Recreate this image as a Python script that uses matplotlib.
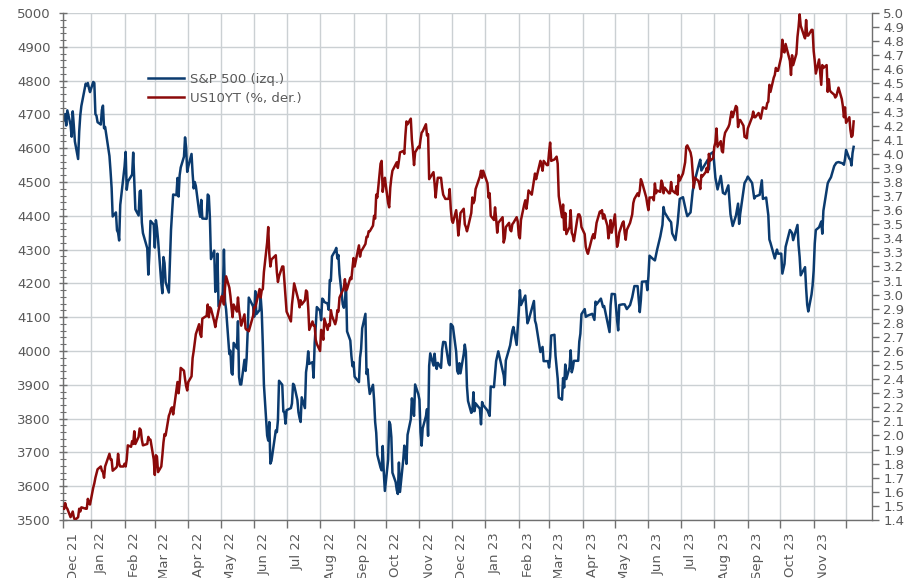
import matplotlib
matplotlib.use("Agg")
import matplotlib.pyplot as plt
from matplotlib.ticker import MultipleLocator, FormatStrFormatter, FixedLocator, NullFormatter
import matplotlib.dates as mdates
import pandas as pd

# S&P 500 closes (left axis)
spx_points = [
    ("2021-12-07", 4686), ("2021-12-08", 4701), ("2021-12-09", 4667), ("2021-12-10", 4712),
    ("2021-12-13", 4669), ("2021-12-14", 4634), ("2021-12-15", 4709), ("2021-12-16", 4668),
    ("2021-12-17", 4620), ("2021-12-20", 4568), ("2021-12-21", 4649), ("2021-12-22", 4697),
    ("2021-12-23", 4725), ("2021-12-27", 4791), ("2021-12-28", 4786), ("2021-12-29", 4793),
    ("2021-12-30", 4778), ("2021-12-31", 4766),
    ("2022-01-03", 4796), ("2022-01-04", 4793), ("2022-01-05", 4701), ("2022-01-06", 4696),
    ("2022-01-07", 4677), ("2022-01-10", 4670), ("2022-01-11", 4713), ("2022-01-12", 4726),
    ("2022-01-13", 4659), ("2022-01-14", 4663), ("2022-01-18", 4577), ("2022-01-19", 4533),
    ("2022-01-20", 4483), ("2022-01-21", 4398), ("2022-01-24", 4410), ("2022-01-25", 4357),
    ("2022-01-26", 4350), ("2022-01-27", 4327), ("2022-01-28", 4432), ("2022-01-31", 4516),
    ("2022-02-01", 4546), ("2022-02-02", 4589), ("2022-02-03", 4477), ("2022-02-04", 4501),
    ("2022-02-08", 4522), ("2022-02-09", 4587), ("2022-02-10", 4504), ("2022-02-11", 4419),
    ("2022-02-14", 4401), ("2022-02-15", 4472), ("2022-02-16", 4475), ("2022-02-17", 4380),
    ("2022-02-18", 4349), ("2022-02-22", 4304), ("2022-02-23", 4226), ("2022-02-24", 4288),
    ("2022-02-25", 4385), ("2022-02-28", 4374), ("2022-03-01", 4306), ("2022-03-02", 4387),
    ("2022-03-03", 4364), ("2022-03-04", 4329), ("2022-03-07", 4201), ("2022-03-08", 4171),
    ("2022-03-09", 4278), ("2022-03-10", 4260), ("2022-03-11", 4204), ("2022-03-14", 4173),
    ("2022-03-15", 4262), ("2022-03-16", 4358), ("2022-03-17", 4412), ("2022-03-18", 4463),
    ("2022-03-21", 4461), ("2022-03-22", 4512), ("2022-03-23", 4457), ("2022-03-24", 4520),
    ("2022-03-25", 4543), ("2022-03-28", 4575), ("2022-03-29", 4632), ("2022-03-30", 4602),
    ("2022-03-31", 4530), ("2022-04-01", 4546), ("2022-04-04", 4583), ("2022-04-05", 4525),
    ("2022-04-06", 4481), ("2022-04-07", 4500), ("2022-04-08", 4488), ("2022-04-11", 4413),
    ("2022-04-12", 4397), ("2022-04-13", 4447), ("2022-04-14", 4392), ("2022-04-18", 4391),
    ("2022-04-19", 4463), ("2022-04-20", 4459), ("2022-04-21", 4394), ("2022-04-22", 4272),
    ("2022-04-25", 4297), ("2022-04-26", 4175), ("2022-04-27", 4184), ("2022-04-28", 4288),
    ("2022-04-29", 4132), ("2022-05-02", 4155), ("2022-05-03", 4175), ("2022-05-04", 4300),
    ("2022-05-05", 4147), ("2022-05-06", 4123), ("2022-05-09", 3991), ("2022-05-10", 4001),
    ("2022-05-11", 3935), ("2022-05-12", 3930), ("2022-05-13", 4024), ("2022-05-16", 4008),
    ("2022-05-17", 4088), ("2022-05-18", 3923), ("2022-05-19", 3901), ("2022-05-20", 3901),
    ("2022-05-23", 3974), ("2022-05-24", 3941), ("2022-05-25", 3979), ("2022-05-26", 4058),
    ("2022-05-27", 4158), ("2022-05-31", 4132), ("2022-06-01", 4101), ("2022-06-02", 4177),
    ("2022-06-03", 4109), ("2022-06-06", 4121), ("2022-06-07", 4161), ("2022-06-08", 4116),
    ("2022-06-09", 4018), ("2022-06-10", 3901), ("2022-06-13", 3750), ("2022-06-14", 3735),
    ("2022-06-15", 3790), ("2022-06-16", 3667), ("2022-06-17", 3675), ("2022-06-21", 3765),
    ("2022-06-22", 3760), ("2022-06-23", 3796), ("2022-06-24", 3912), ("2022-06-27", 3900),
    ("2022-06-28", 3821), ("2022-06-29", 3819), ("2022-06-30", 3785), ("2022-07-01", 3825),
    ("2022-07-05", 3831), ("2022-07-06", 3845), ("2022-07-07", 3903), ("2022-07-08", 3899),
    ("2022-07-11", 3855), ("2022-07-12", 3819), ("2022-07-13", 3802), ("2022-07-14", 3790),
    ("2022-07-15", 3863), ("2022-07-18", 3831), ("2022-07-19", 3937), ("2022-07-20", 3960),
    ("2022-07-21", 3999), ("2022-07-22", 3962), ("2022-07-25", 3967), ("2022-07-26", 3921),
    ("2022-07-27", 4024), ("2022-07-28", 4073), ("2022-07-29", 4130), ("2022-08-01", 4119),
    ("2022-08-02", 4091), ("2022-08-03", 4155), ("2022-08-04", 4152), ("2022-08-05", 4145),
    ("2022-08-08", 4140), ("2022-08-09", 4122), ("2022-08-10", 4210), ("2022-08-11", 4207),
    ("2022-08-12", 4280), ("2022-08-15", 4297), ("2022-08-16", 4305), ("2022-08-17", 4274),
    ("2022-08-18", 4284), ("2022-08-19", 4228), ("2022-08-22", 4138), ("2022-08-23", 4128),
    ("2022-08-24", 4141), ("2022-08-25", 4199), ("2022-08-26", 4058), ("2022-08-29", 4031),
    ("2022-08-30", 3986), ("2022-08-31", 3955), ("2022-09-01", 3967), ("2022-09-02", 3924),
    ("2022-09-06", 3908), ("2022-09-07", 3980), ("2022-09-08", 4006), ("2022-09-09", 4067),
    ("2022-09-12", 4110), ("2022-09-13", 3932), ("2022-09-14", 3946), ("2022-09-15", 3901),
    ("2022-09-16", 3873), ("2022-09-19", 3900), ("2022-09-20", 3856), ("2022-09-21", 3790),
    ("2022-09-22", 3758), ("2022-09-23", 3693), ("2022-09-26", 3655), ("2022-09-27", 3647),
    ("2022-09-28", 3719), ("2022-09-29", 3640), ("2022-09-30", 3586), ("2022-10-03", 3678),
    ("2022-10-04", 3791), ("2022-10-05", 3783), ("2022-10-06", 3745), ("2022-10-07", 3640),
    ("2022-10-10", 3612), ("2022-10-11", 3589), ("2022-10-12", 3577), ("2022-10-13", 3670),
    ("2022-10-14", 3583), ("2022-10-17", 3678), ("2022-10-18", 3720), ("2022-10-19", 3695),
    ("2022-10-20", 3666), ("2022-10-21", 3752), ("2022-10-24", 3798), ("2022-10-25", 3860),
    ("2022-10-26", 3831), ("2022-10-27", 3808), ("2022-10-28", 3901), ("2022-10-31", 3872),
    ("2022-11-01", 3856), ("2022-11-02", 3760), ("2022-11-03", 3720), ("2022-11-04", 3771),
    ("2022-11-07", 3807), ("2022-11-08", 3828), ("2022-11-09", 3749), ("2022-11-10", 3956),
    ("2022-11-11", 3993), ("2022-11-14", 3957), ("2022-11-15", 3992), ("2022-11-16", 3959),
    ("2022-11-17", 3947), ("2022-11-18", 3965), ("2022-11-21", 3950), ("2022-11-22", 4004),
    ("2022-11-23", 4027), ("2022-11-25", 4026), ("2022-11-28", 3964), ("2022-11-29", 3958),
    ("2022-11-30", 4080), ("2022-12-01", 4077), ("2022-12-02", 4072), ("2022-12-05", 3998),
    ("2022-12-06", 3941), ("2022-12-07", 3933), ("2022-12-08", 3964), ("2022-12-09", 3934),
    ("2022-12-12", 3991), ("2022-12-13", 4019), ("2022-12-14", 3996), ("2022-12-15", 3895),
    ("2022-12-16", 3852), ("2022-12-19", 3817), ("2022-12-20", 3821), ("2022-12-21", 3878),
    ("2022-12-22", 3822), ("2022-12-23", 3845), ("2022-12-27", 3829), ("2022-12-28", 3783),
    ("2022-12-29", 3849), ("2022-12-30", 3840),
    ("2023-01-03", 3824), ("2023-01-05", 3808), ("2023-01-06", 3895), ("2023-01-09", 3893),
    ("2023-01-11", 3970), ("2023-01-13", 3999), ("2023-01-18", 3928), ("2023-01-19", 3899),
    ("2023-01-20", 3972), ("2023-01-24", 4017), ("2023-01-26", 4060), ("2023-01-27", 4071),
    ("2023-01-30", 4018), ("2023-02-01", 4119), ("2023-02-02", 4180), ("2023-02-03", 4136),
    ("2023-02-07", 4164), ("2023-02-09", 4082), ("2023-02-10", 4090), ("2023-02-14", 4136),
    ("2023-02-15", 4148), ("2023-02-16", 4090), ("2023-02-17", 4079), ("2023-02-21", 3997),
    ("2023-02-23", 4012), ("2023-02-24", 3970), ("2023-02-28", 3970), ("2023-03-01", 3951),
    ("2023-03-02", 3982), ("2023-03-03", 4046), ("2023-03-06", 4048), ("2023-03-07", 3986),
    ("2023-03-09", 3918), ("2023-03-10", 3862), ("2023-03-13", 3856), ("2023-03-14", 3920),
    ("2023-03-15", 3892), ("2023-03-16", 3960), ("2023-03-17", 3917), ("2023-03-20", 3952),
    ("2023-03-21", 4002), ("2023-03-22", 3937), ("2023-03-23", 3949), ("2023-03-24", 3971),
    ("2023-03-28", 3971), ("2023-03-29", 4028), ("2023-03-30", 4051), ("2023-03-31", 4109),
    ("2023-04-03", 4124), ("2023-04-04", 4101), ("2023-04-06", 4105), ("2023-04-10", 4110),
    ("2023-04-12", 4092), ("2023-04-13", 4146), ("2023-04-14", 4138), ("2023-04-18", 4155),
    ("2023-04-20", 4130), ("2023-04-21", 4133), ("2023-04-25", 4071), ("2023-04-26", 4056),
    ("2023-04-27", 4136), ("2023-04-28", 4169), ("2023-05-01", 4168), ("2023-05-03", 4091),
    ("2023-05-04", 4061), ("2023-05-05", 4136), ("2023-05-08", 4138), ("2023-05-10", 4138),
    ("2023-05-12", 4124), ("2023-05-15", 4136), ("2023-05-17", 4159), ("2023-05-19", 4192),
    ("2023-05-22", 4192), ("2023-05-24", 4115), ("2023-05-25", 4151), ("2023-05-26", 4205),
    ("2023-05-30", 4206), ("2023-05-31", 4180), ("2023-06-01", 4221), ("2023-06-02", 4282),
    ("2023-06-05", 4273), ("2023-06-07", 4268), ("2023-06-09", 4299), ("2023-06-12", 4339),
    ("2023-06-14", 4373), ("2023-06-15", 4426), ("2023-06-16", 4410), ("2023-06-20", 4389),
    ("2023-06-22", 4381), ("2023-06-23", 4348), ("2023-06-26", 4328), ("2023-06-28", 4377),
    ("2023-06-30", 4450), ("2023-07-03", 4455), ("2023-07-06", 4411), ("2023-07-07", 4399),
    ("2023-07-10", 4410), ("2023-07-12", 4473), ("2023-07-14", 4505), ("2023-07-18", 4555),
    ("2023-07-19", 4566), ("2023-07-20", 4534), ("2023-07-24", 4555), ("2023-07-26", 4566),
    ("2023-07-27", 4537), ("2023-07-28", 4582), ("2023-07-31", 4589), ("2023-08-02", 4513),
    ("2023-08-04", 4478), ("2023-08-07", 4518), ("2023-08-09", 4468), ("2023-08-11", 4464),
    ("2023-08-14", 4490), ("2023-08-16", 4404), ("2023-08-18", 4370), ("2023-08-21", 4400),
    ("2023-08-23", 4436), ("2023-08-24", 4376), ("2023-08-25", 4406), ("2023-08-29", 4497),
    ("2023-08-31", 4508), ("2023-09-01", 4516), ("2023-09-05", 4497), ("2023-09-07", 4451),
    ("2023-09-08", 4457), ("2023-09-12", 4462), ("2023-09-14", 4505), ("2023-09-15", 4450),
    ("2023-09-18", 4454), ("2023-09-20", 4402), ("2023-09-21", 4330), ("2023-09-22", 4320),
    ("2023-09-26", 4274), ("2023-09-28", 4300), ("2023-09-29", 4288), ("2023-10-02", 4288),
    ("2023-10-03", 4229), ("2023-10-05", 4258), ("2023-10-06", 4308), ("2023-10-10", 4358),
    ("2023-10-12", 4349), ("2023-10-13", 4328), ("2023-10-17", 4373), ("2023-10-18", 4314),
    ("2023-10-19", 4278), ("2023-10-20", 4224), ("2023-10-24", 4248), ("2023-10-25", 4186),
    ("2023-10-26", 4137), ("2023-10-27", 4117), ("2023-10-30", 4167), ("2023-10-31", 4194),
    ("2023-11-01", 4238), ("2023-11-02", 4318), ("2023-11-03", 4358), ("2023-11-06", 4366),
    ("2023-11-08", 4383), ("2023-11-09", 4347), ("2023-11-10", 4415), ("2023-11-14", 4496),
    ("2023-11-15", 4503), ("2023-11-17", 4514), ("2023-11-20", 4547), ("2023-11-22", 4557),
    ("2023-11-24", 4559), ("2023-11-28", 4555), ("2023-11-29", 4551), ("2023-11-30", 4568),
    ("2023-12-01", 4595), ("2023-12-04", 4569), ("2023-12-05", 4567), ("2023-12-06", 4549),
    ("2023-12-07", 4586), ("2023-12-08", 4604),
]

# US 10Y Treasury yield in % (right axis)
ust_points = [
    ("2021-12-07", 1.48), ("2021-12-08", 1.52), ("2021-12-09", 1.49), ("2021-12-10", 1.48),
    ("2021-12-13", 1.42), ("2021-12-14", 1.44), ("2021-12-15", 1.46), ("2021-12-16", 1.42),
    ("2021-12-17", 1.40), ("2021-12-20", 1.42), ("2021-12-21", 1.48), ("2021-12-22", 1.46),
    ("2021-12-23", 1.49), ("2021-12-27", 1.48), ("2021-12-28", 1.48), ("2021-12-29", 1.55),
    ("2021-12-30", 1.52), ("2021-12-31", 1.51),
    ("2022-01-03", 1.63), ("2022-01-04", 1.66), ("2022-01-05", 1.70), ("2022-01-06", 1.73),
    ("2022-01-07", 1.76), ("2022-01-10", 1.78), ("2022-01-11", 1.75), ("2022-01-12", 1.74),
    ("2022-01-13", 1.70), ("2022-01-14", 1.78), ("2022-01-18", 1.87), ("2022-01-19", 1.83),
    ("2022-01-20", 1.83), ("2022-01-21", 1.75), ("2022-01-24", 1.77), ("2022-01-25", 1.78),
    ("2022-01-26", 1.87), ("2022-01-27", 1.80), ("2022-01-28", 1.78), ("2022-01-31", 1.78),
    ("2022-02-01", 1.80), ("2022-02-02", 1.78), ("2022-02-03", 1.83), ("2022-02-04", 1.93),
    ("2022-02-07", 1.92), ("2022-02-08", 1.96), ("2022-02-09", 1.94), ("2022-02-10", 2.03),
    ("2022-02-11", 1.94), ("2022-02-14", 1.99), ("2022-02-15", 2.05), ("2022-02-16", 2.04),
    ("2022-02-17", 1.97), ("2022-02-18", 1.93), ("2022-02-22", 1.94), ("2022-02-23", 1.99),
    ("2022-02-24", 1.97), ("2022-02-25", 1.97), ("2022-02-28", 1.83), ("2022-03-01", 1.72),
    ("2022-03-02", 1.86), ("2022-03-03", 1.85), ("2022-03-04", 1.74), ("2022-03-07", 1.78),
    ("2022-03-08", 1.86), ("2022-03-09", 1.95), ("2022-03-10", 2.01), ("2022-03-11", 2.00),
    ("2022-03-14", 2.14), ("2022-03-15", 2.16), ("2022-03-16", 2.19), ("2022-03-17", 2.20),
    ("2022-03-18", 2.15), ("2022-03-21", 2.32), ("2022-03-22", 2.38), ("2022-03-23", 2.30),
    ("2022-03-24", 2.37), ("2022-03-25", 2.48), ("2022-03-28", 2.46), ("2022-03-29", 2.40),
    ("2022-03-30", 2.35), ("2022-03-31", 2.32), ("2022-04-01", 2.38), ("2022-04-04", 2.42),
    ("2022-04-05", 2.55), ("2022-04-06", 2.60), ("2022-04-07", 2.66), ("2022-04-08", 2.72),
    ("2022-04-11", 2.79), ("2022-04-12", 2.72), ("2022-04-13", 2.70), ("2022-04-14", 2.83),
    ("2022-04-18", 2.85), ("2022-04-19", 2.93), ("2022-04-20", 2.84), ("2022-04-21", 2.91),
    ("2022-04-22", 2.90), ("2022-04-25", 2.81), ("2022-04-26", 2.77), ("2022-04-27", 2.82),
    ("2022-04-28", 2.85), ("2022-04-29", 2.89), ("2022-05-02", 2.99), ("2022-05-03", 2.97),
    ("2022-05-04", 2.93), ("2022-05-05", 3.05), ("2022-05-06", 3.13), ("2022-05-09", 3.05),
    ("2022-05-10", 2.99), ("2022-05-11", 2.91), ("2022-05-12", 2.84), ("2022-05-13", 2.93),
    ("2022-05-16", 2.88), ("2022-05-17", 2.98), ("2022-05-18", 2.89), ("2022-05-19", 2.84),
    ("2022-05-20", 2.78), ("2022-05-23", 2.86), ("2022-05-24", 2.76), ("2022-05-25", 2.75),
    ("2022-05-26", 2.75), ("2022-05-27", 2.74), ("2022-05-31", 2.85), ("2022-06-01", 2.91),
    ("2022-06-02", 2.91), ("2022-06-03", 2.94), ("2022-06-06", 3.04), ("2022-06-07", 2.98),
    ("2022-06-08", 3.03), ("2022-06-09", 3.04), ("2022-06-10", 3.16), ("2022-06-13", 3.37),
    ("2022-06-14", 3.48), ("2022-06-15", 3.29), ("2022-06-16", 3.20), ("2022-06-17", 3.25),
    ("2022-06-21", 3.28), ("2022-06-22", 3.16), ("2022-06-23", 3.09), ("2022-06-24", 3.13),
    ("2022-06-27", 3.20), ("2022-06-28", 3.20), ("2022-06-29", 3.09), ("2022-06-30", 2.98),
    ("2022-07-01", 2.88), ("2022-07-05", 2.81), ("2022-07-06", 2.93), ("2022-07-07", 3.00),
    ("2022-07-08", 3.08), ("2022-07-11", 2.99), ("2022-07-12", 2.96), ("2022-07-13", 2.91),
    ("2022-07-14", 2.96), ("2022-07-15", 2.93), ("2022-07-18", 2.96), ("2022-07-19", 3.03),
    ("2022-07-20", 3.02), ("2022-07-21", 2.91), ("2022-07-22", 2.75), ("2022-07-25", 2.81),
    ("2022-07-26", 2.78), ("2022-07-27", 2.78), ("2022-07-28", 2.68), ("2022-07-29", 2.65),
    ("2022-08-01", 2.60), ("2022-08-02", 2.75), ("2022-08-03", 2.73), ("2022-08-04", 2.68),
    ("2022-08-05", 2.83), ("2022-08-08", 2.75), ("2022-08-09", 2.79), ("2022-08-10", 2.78),
    ("2022-08-11", 2.89), ("2022-08-12", 2.85), ("2022-08-15", 2.79), ("2022-08-16", 2.82),
    ("2022-08-17", 2.89), ("2022-08-18", 2.88), ("2022-08-19", 2.98), ("2022-08-22", 3.03),
    ("2022-08-23", 3.05), ("2022-08-24", 3.11), ("2022-08-25", 3.03), ("2022-08-26", 3.04),
    ("2022-08-29", 3.12), ("2022-08-30", 3.11), ("2022-08-31", 3.19), ("2022-09-01", 3.26),
    ("2022-09-02", 3.20), ("2022-09-06", 3.35), ("2022-09-07", 3.27), ("2022-09-08", 3.31),
    ("2022-09-09", 3.32), ("2022-09-12", 3.36), ("2022-09-13", 3.41), ("2022-09-14", 3.41),
    ("2022-09-15", 3.45), ("2022-09-16", 3.45), ("2022-09-19", 3.49), ("2022-09-20", 3.56),
    ("2022-09-21", 3.54), ("2022-09-22", 3.71), ("2022-09-23", 3.69), ("2022-09-26", 3.93),
    ("2022-09-27", 3.95), ("2022-09-28", 3.73), ("2022-09-29", 3.79), ("2022-09-30", 3.83),
    ("2022-10-03", 3.65), ("2022-10-04", 3.62), ("2022-10-05", 3.76), ("2022-10-06", 3.83),
    ("2022-10-07", 3.88), ("2022-10-11", 3.94), ("2022-10-12", 3.90), ("2022-10-13", 3.95),
    ("2022-10-14", 4.01), ("2022-10-17", 4.02), ("2022-10-18", 4.00), ("2022-10-19", 4.13),
    ("2022-10-20", 4.23), ("2022-10-21", 4.21), ("2022-10-24", 4.25), ("2022-10-25", 4.10),
    ("2022-10-26", 4.02), ("2022-10-27", 3.92), ("2022-10-28", 4.01), ("2022-10-31", 4.05),
    ("2022-11-01", 4.04), ("2022-11-02", 4.10), ("2022-11-03", 4.15), ("2022-11-04", 4.16),
    ("2022-11-07", 4.21), ("2022-11-08", 4.13), ("2022-11-09", 4.14), ("2022-11-10", 3.82),
    ("2022-11-14", 3.87), ("2022-11-15", 3.79), ("2022-11-16", 3.69), ("2022-11-17", 3.77),
    ("2022-11-18", 3.83), ("2022-11-21", 3.83), ("2022-11-22", 3.76), ("2022-11-23", 3.71),
    ("2022-11-25", 3.68), ("2022-11-28", 3.68), ("2022-11-29", 3.75), ("2022-11-30", 3.61),
    ("2022-12-01", 3.53), ("2022-12-02", 3.51), ("2022-12-05", 3.60), ("2022-12-06", 3.53),
    ("2022-12-07", 3.42), ("2022-12-08", 3.49), ("2022-12-09", 3.58), ("2022-12-12", 3.61),
    ("2022-12-13", 3.50), ("2022-12-14", 3.48), ("2022-12-15", 3.45), ("2022-12-16", 3.48),
    ("2022-12-19", 3.58), ("2022-12-20", 3.69), ("2022-12-21", 3.65), ("2022-12-22", 3.67),
    ("2022-12-23", 3.75), ("2022-12-27", 3.84), ("2022-12-28", 3.88), ("2022-12-29", 3.83),
    ("2022-12-30", 3.88),
    ("2023-01-03", 3.79), ("2023-01-04", 3.69), ("2023-01-05", 3.72), ("2023-01-06", 3.56),
    ("2023-01-09", 3.53), ("2023-01-10", 3.62), ("2023-01-11", 3.54), ("2023-01-12", 3.44),
    ("2023-01-13", 3.51), ("2023-01-17", 3.55), ("2023-01-18", 3.37), ("2023-01-19", 3.40),
    ("2023-01-20", 3.48), ("2023-01-23", 3.51), ("2023-01-24", 3.46), ("2023-01-25", 3.45),
    ("2023-01-26", 3.50), ("2023-01-27", 3.51), ("2023-01-30", 3.55), ("2023-01-31", 3.52),
    ("2023-02-01", 3.42), ("2023-02-02", 3.40), ("2023-02-03", 3.53), ("2023-02-06", 3.64),
    ("2023-02-07", 3.67), ("2023-02-08", 3.61), ("2023-02-09", 3.66), ("2023-02-10", 3.74),
    ("2023-02-13", 3.71), ("2023-02-14", 3.76), ("2023-02-15", 3.81), ("2023-02-16", 3.86),
    ("2023-02-17", 3.82), ("2023-02-21", 3.95), ("2023-02-22", 3.92), ("2023-02-23", 3.88),
    ("2023-02-24", 3.95), ("2023-02-27", 3.92), ("2023-02-28", 3.92), ("2023-03-01", 4.01),
    ("2023-03-02", 4.08), ("2023-03-03", 3.95), ("2023-03-06", 3.96), ("2023-03-07", 3.97),
    ("2023-03-08", 3.98), ("2023-03-09", 3.93), ("2023-03-10", 3.70), ("2023-03-13", 3.55),
    ("2023-03-14", 3.64), ("2023-03-15", 3.46), ("2023-03-16", 3.58), ("2023-03-17", 3.43),
    ("2023-03-20", 3.48), ("2023-03-21", 3.60), ("2023-03-22", 3.44), ("2023-03-23", 3.42),
    ("2023-03-24", 3.38), ("2023-03-27", 3.53), ("2023-03-28", 3.57), ("2023-03-29", 3.57),
    ("2023-03-30", 3.55), ("2023-03-31", 3.48), ("2023-04-03", 3.43), ("2023-04-04", 3.34),
    ("2023-04-05", 3.31), ("2023-04-06", 3.29), ("2023-04-10", 3.41), ("2023-04-11", 3.43),
    ("2023-04-12", 3.40), ("2023-04-13", 3.45), ("2023-04-14", 3.51), ("2023-04-17", 3.59),
    ("2023-04-18", 3.58), ("2023-04-19", 3.60), ("2023-04-20", 3.54), ("2023-04-21", 3.57),
    ("2023-04-24", 3.49), ("2023-04-25", 3.40), ("2023-04-26", 3.45), ("2023-04-27", 3.53),
    ("2023-04-28", 3.44), ("2023-05-01", 3.57), ("2023-05-02", 3.44), ("2023-05-03", 3.34),
    ("2023-05-04", 3.37), ("2023-05-05", 3.44), ("2023-05-08", 3.51), ("2023-05-09", 3.52),
    ("2023-05-10", 3.44), ("2023-05-11", 3.39), ("2023-05-12", 3.46), ("2023-05-15", 3.51),
    ("2023-05-16", 3.54), ("2023-05-17", 3.57), ("2023-05-18", 3.65), ("2023-05-19", 3.68),
    ("2023-05-22", 3.72), ("2023-05-23", 3.70), ("2023-05-24", 3.74), ("2023-05-25", 3.82),
    ("2023-05-26", 3.80), ("2023-05-30", 3.69), ("2023-05-31", 3.64), ("2023-06-01", 3.60),
    ("2023-06-02", 3.69), ("2023-06-05", 3.69), ("2023-06-06", 3.67), ("2023-06-07", 3.79),
    ("2023-06-08", 3.72), ("2023-06-09", 3.74), ("2023-06-12", 3.73), ("2023-06-13", 3.81),
    ("2023-06-14", 3.79), ("2023-06-15", 3.72), ("2023-06-16", 3.76), ("2023-06-20", 3.72),
    ("2023-06-21", 3.72), ("2023-06-22", 3.80), ("2023-06-23", 3.74), ("2023-06-26", 3.72),
    ("2023-06-27", 3.77), ("2023-06-28", 3.71), ("2023-06-29", 3.85), ("2023-06-30", 3.81),
    ("2023-07-03", 3.86), ("2023-07-05", 3.94), ("2023-07-06", 4.05), ("2023-07-07", 4.06),
    ("2023-07-10", 4.01), ("2023-07-11", 3.97), ("2023-07-12", 3.87), ("2023-07-13", 3.76),
    ("2023-07-14", 3.83), ("2023-07-17", 3.81), ("2023-07-18", 3.79), ("2023-07-19", 3.75),
    ("2023-07-20", 3.85), ("2023-07-21", 3.84), ("2023-07-24", 3.87), ("2023-07-25", 3.90),
    ("2023-07-26", 3.87), ("2023-07-27", 4.00), ("2023-07-28", 3.95), ("2023-07-31", 3.97),
    ("2023-08-01", 4.05), ("2023-08-02", 4.08), ("2023-08-03", 4.18), ("2023-08-04", 4.05),
    ("2023-08-07", 4.09), ("2023-08-08", 4.02), ("2023-08-09", 4.01), ("2023-08-10", 4.11),
    ("2023-08-11", 4.15), ("2023-08-14", 4.19), ("2023-08-15", 4.21), ("2023-08-16", 4.26),
    ("2023-08-17", 4.30), ("2023-08-18", 4.26), ("2023-08-21", 4.34), ("2023-08-22", 4.33),
    ("2023-08-23", 4.19), ("2023-08-24", 4.24), ("2023-08-25", 4.24), ("2023-08-28", 4.20),
    ("2023-08-29", 4.12), ("2023-08-30", 4.12), ("2023-08-31", 4.11), ("2023-09-01", 4.18),
    ("2023-09-05", 4.26), ("2023-09-06", 4.30), ("2023-09-07", 4.26), ("2023-09-08", 4.26),
    ("2023-09-11", 4.29), ("2023-09-12", 4.27), ("2023-09-13", 4.25), ("2023-09-14", 4.29),
    ("2023-09-15", 4.33), ("2023-09-18", 4.32), ("2023-09-19", 4.36), ("2023-09-20", 4.37),
    ("2023-09-21", 4.49), ("2023-09-22", 4.44), ("2023-09-25", 4.54), ("2023-09-26", 4.56),
    ("2023-09-27", 4.61), ("2023-09-28", 4.59), ("2023-09-29", 4.59), ("2023-10-02", 4.69),
    ("2023-10-03", 4.81), ("2023-10-04", 4.73), ("2023-10-05", 4.72), ("2023-10-06", 4.78),
    ("2023-10-10", 4.66), ("2023-10-11", 4.56), ("2023-10-12", 4.70), ("2023-10-13", 4.63),
    ("2023-10-16", 4.71), ("2023-10-17", 4.83), ("2023-10-18", 4.90), ("2023-10-19", 4.99),
    ("2023-10-20", 4.91), ("2023-10-23", 4.84), ("2023-10-24", 4.82), ("2023-10-25", 4.95),
    ("2023-10-26", 4.84), ("2023-10-27", 4.84), ("2023-10-30", 4.88), ("2023-10-31", 4.88),
    ("2023-11-01", 4.73), ("2023-11-02", 4.66), ("2023-11-03", 4.57), ("2023-11-06", 4.67),
    ("2023-11-07", 4.58), ("2023-11-08", 4.49), ("2023-11-09", 4.63), ("2023-11-10", 4.61),
    ("2023-11-13", 4.63), ("2023-11-14", 4.44), ("2023-11-15", 4.53), ("2023-11-16", 4.45),
    ("2023-11-17", 4.44), ("2023-11-20", 4.42), ("2023-11-21", 4.40), ("2023-11-22", 4.41),
    ("2023-11-24", 4.47), ("2023-11-27", 4.39), ("2023-11-28", 4.34), ("2023-11-29", 4.26),
    ("2023-11-30", 4.33), ("2023-12-01", 4.22), ("2023-12-04", 4.26), ("2023-12-05", 4.17),
    ("2023-12-06", 4.12), ("2023-12-07", 4.13), ("2023-12-08", 4.23),
]

month_labels = [
    "Dec 21", "Jan 22", "Feb 22", "Mar 22", "Apr 22", "May 22", "Jun 22", "Jul 22",
    "Aug 22", "Sep 22", "Oct 22", "Nov 22", "Dec 22", "Jan 23", "Feb 23", "Mar 23",
    "Apr 23", "May 23", "Jun 23", "Jul 23", "Aug 23", "Sep 23", "Oct 23", "Nov 23",
]

SPX_COLOR = "#0b3b6f"
UST_COLOR = "#8b0a0a"
TEXT_COLOR = "#595959"
GRID_COLOR = "#cbd0d3"
SPINE_COLOR = "#6f6f6f"
FONT_SIZE = 9.5

spx = pd.DataFrame(spx_points, columns=["date", "value"])
spx["date"] = pd.to_datetime(spx["date"])
ust = pd.DataFrame(ust_points, columns=["date", "value"])
ust["date"] = pd.to_datetime(ust["date"])

plt.rcParams["font.family"] = "DejaVu Sans"

W, H = 911, 578
fig = plt.figure(figsize=(W / 100, H / 100), dpi=100)
ax = fig.add_axes([63 / W, 58 / H, 809 / W, 507 / H])
ax2 = ax.twinx()

l1, = ax.plot(spx["date"], spx["value"], color=SPX_COLOR, lw=1.8,
              label="S&P 500 (izq.)", solid_joinstyle="round")
l2, = ax2.plot(ust["date"], ust["value"], color=UST_COLOR, lw=1.8,
               label="US10YT (%, der.)", solid_joinstyle="round")

# x axis: tick marks at month starts, labels sit a little to the right of each tick
x_left = pd.Timestamp("2021-12-06")
x_right = pd.Timestamp("2023-12-25")
ax.set_xlim(x_left, x_right)
tick_dates = [x_left] + list(pd.date_range("2022-01-01", "2023-12-01", freq="MS"))
tick_nums = mdates.date2num(tick_dates)
label_nums = tick_nums[:len(month_labels)] + 9.3
ax.xaxis.set_major_locator(FixedLocator(tick_nums))
ax.xaxis.set_major_formatter(NullFormatter())
ax.xaxis.set_minor_locator(FixedLocator(label_nums))
ax.set_xticklabels(month_labels, minor=True, rotation=90, va="top", ha="center",
                   fontsize=FONT_SIZE, color=TEXT_COLOR)
ax.tick_params(axis="x", which="major", direction="out", length=6, width=1,
               color=SPINE_COLOR)
ax.tick_params(axis="x", which="minor", length=0, pad=9)

# left axis
ax.set_ylim(3500, 5000)
ax.yaxis.set_major_locator(MultipleLocator(100))
ax.yaxis.set_minor_locator(MultipleLocator(20))
ax.tick_params(axis="y", which="major", direction="inout", length=6, width=1,
               color=SPINE_COLOR, labelsize=FONT_SIZE, labelcolor=TEXT_COLOR, pad=6)
ax.tick_params(axis="y", which="minor", direction="inout", length=4, width=0.8,
               color=SPINE_COLOR)

# right axis
ax2.set_ylim(1.4, 5.0)
ax2.yaxis.set_major_locator(MultipleLocator(0.1))
ax2.yaxis.set_major_formatter(FormatStrFormatter("%.1f"))
ax2.tick_params(axis="y", direction="out", length=5, width=1, color=SPINE_COLOR,
                labelsize=FONT_SIZE, labelcolor=TEXT_COLOR, pad=3)

ax.grid(True, which="major", axis="both", color=GRID_COLOR, lw=1)
ax.set_axisbelow(True)

for a in (ax, ax2):
    a.spines["top"].set_visible(False)
    for side in ("left", "right", "bottom"):
        a.spines[side].set_color(SPINE_COLOR)
        a.spines[side].set_linewidth(1)
ax.spines["right"].set_visible(False)
ax2.spines["left"].set_visible(False)
ax2.spines["bottom"].set_visible(False)

ax2.legend(handles=[l1, l2], loc="upper left",
           bbox_to_anchor=(148 / W, 1 - 73 / H), bbox_transform=fig.transFigure,
           frameon=False, fontsize=FONT_SIZE, labelcolor=TEXT_COLOR,
           handlelength=2.7, handletextpad=0.45, labelspacing=0.45,
           borderpad=0, borderaxespad=0)

fig.savefig("out.png", dpi=100)
